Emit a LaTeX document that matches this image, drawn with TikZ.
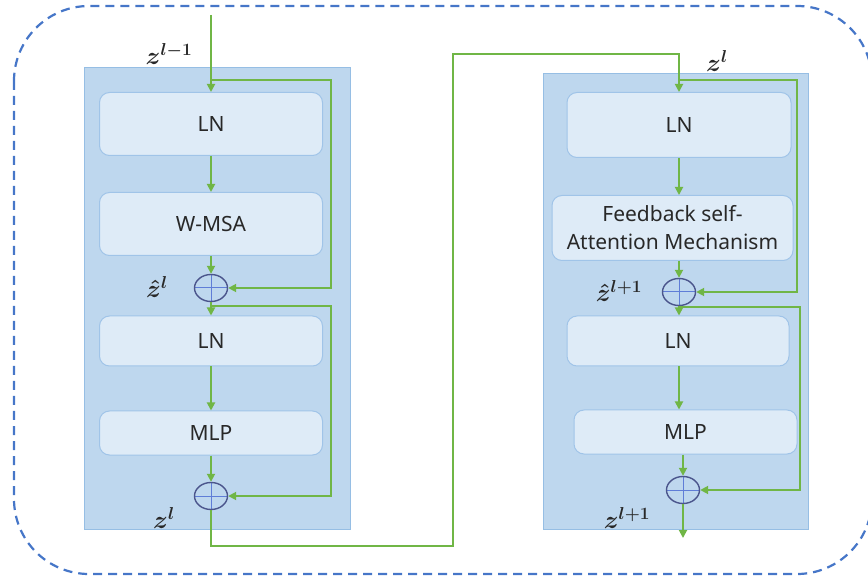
\documentclass[tikz,border=0pt]{standalone}
\usepackage{fontspec}
\usepackage{bm}
\setmainfont{Noto Sans}
\usetikzlibrary{arrows.meta,shapes.geometric,calc}

\definecolor{flowgreen}{RGB}{112,182,70}
\definecolor{panelfill}{RGB}{190,215,238}
\definecolor{paneledge}{RGB}{150,190,228}
\definecolor{boxfill}{RGB}{222,235,247}
\definecolor{boxedge}{RGB}{160,196,232}
\definecolor{dashblue}{RGB}{70,118,200}
\definecolor{ringedge}{RGB}{75,85,140}
\definecolor{crossblue}{RGB}{95,125,215}
\definecolor{textgray}{RGB}{40,40,40}

\tikzset{
  panel/.style={draw=paneledge, fill=panelfill, line width=1pt},
  blockbox/.style={draw=boxedge, fill=boxfill, rounded corners=10pt, line width=1pt,
    text=textgray, font=\fontsize{21}{25}\selectfont, align=center, inner sep=0pt},
  adder/.style={ellipse, draw=ringedge, line width=1.4pt, minimum width=33pt, minimum height=27pt,
    inner sep=0pt, path picture={
      \draw[crossblue, line width=1pt]
        (path picture bounding box.west) -- (path picture bounding box.east)
        (path picture bounding box.north) -- (path picture bounding box.south);}},
  flow/.style={draw=flowgreen, line width=1.8pt, -{Triangle[length=8pt,width=8pt]}},
  mathlbl/.style={text=textgray, font=\fontsize{24}{28}\selectfont\boldmath, inner sep=0pt},
  frame/.style={draw=dashblue, line width=2.2pt, dash pattern=on 9pt off 6pt, rounded corners=75pt}
}

\begin{document}
\begin{tikzpicture}[x=1pt,y=-1pt]
\useasboundingbox (0,0) rectangle (868,577);
\begin{scope}
\clip (0,0) rectangle (868,577);
\draw[frame] (14,6) rectangle (872,574);
\end{scope}

% two transformer blocks
\draw[panel] (84,68) rectangle (350,529);
\draw[panel] (543,74) rectangle (808,529);

% left block
\node[blockbox, minimum width=223pt, minimum height=63pt] (ln1) at (211,124) {LN};
\node[blockbox, minimum width=223pt, minimum height=63pt] (msa) at (211,224) {W-MSA};
\node[adder] (add1) at (211,288) {};
\node[blockbox, minimum width=223pt, minimum height=50pt] (ln2) at (211,341) {LN};
\node[blockbox, minimum width=223pt, minimum height=44pt] (mlp) at (211,433) {MLP};
\node[adder] (add2) at (211,496) {};

% right block
\node[blockbox, minimum width=224pt, minimum height=65pt] (rln1) at (679,125) {LN};
\node[blockbox, minimum width=241pt, minimum height=65pt] (fsa) at (672.5,228)
  {Feedback self-\\[3pt]Attention Mechanism};
\node[adder] (radd1) at (679,292) {};
\node[blockbox, minimum width=222pt, minimum height=50pt] (rln2) at (678,341) {LN};
\node[blockbox, minimum width=223pt, minimum height=44pt] (rmlp) at (685.5,432) {MLP};
\node[adder] (radd2) at (683,490) {};

% labels
\node[mathlbl] (lin) at (169,54) {$z^{l-1}$};
\node[mathlbl] (lhat) at (157,287) {$\hat{z}^{l}$};
\node[mathlbl] (lout) at (164,518) {$z^{l}$};
\node[mathlbl] (rin) at (717,61) {$z^{l}$};
\node[mathlbl] (rhat) at (619,291) {$\hat{z}^{l+1}$};
\node[mathlbl] (rout) at (627,518) {$z^{l+1}$};

% connector corners
\coordinate (src) at (211,15);
\coordinate (s1) at (211,80);
\coordinate (s1r) at (331,80);
\coordinate (s2) at (211,306);
\coordinate (s2r) at (331,306);
\coordinate (d1) at (211,546);
\coordinate (d2) at (453,546);
\coordinate (d3) at (453,54);
\coordinate (d4) at (679,54);
\coordinate (r1) at (679,80);
\coordinate (r1r) at (797,80);
\coordinate (r2) at (679,307);
\coordinate (r2r) at (800,307);
\coordinate (sink) at (683,538);

% left flow
\draw[flow] (src) -- (ln1.north);
\draw[flow] (s1) -- (s1r) |- (add1.east);
\draw[flow] (ln1.south) -- (msa.north);
\draw[flow] (msa.south) -- (add1.north);
\draw[flow] (add1.south) -- (ln2.north);
\draw[flow] (s2) -- (s2r) |- (add2.east);
\draw[flow] (ln2.south) -- (mlp.north);
\draw[flow] (mlp.south) -- (add2.north);

% hand-over between blocks
\draw[flow] (add2.south) -- (d1) -- (d2) -- (d3) -- (d4) -- (rln1.north);

% right flow
\draw[flow] (r1) -- (r1r) |- (radd1.east);
\draw[flow] (rln1.south) -- (rln1.south |- fsa.north);
\draw[flow] (rln1.south |- fsa.south) -- (radd1.north);
\draw[flow] (radd1.south) -- (radd1.south |- rln2.north);
\draw[flow] (r2) -- (r2r) |- (radd2.east);
\draw[flow] (radd1.south |- rln2.south) -- (radd1.south |- rmlp.north);
\draw[flow] (radd2.north |- rmlp.south) -- (radd2.north);
\draw[flow] (radd2.south) -- (sink);
\end{tikzpicture}
\end{document}
